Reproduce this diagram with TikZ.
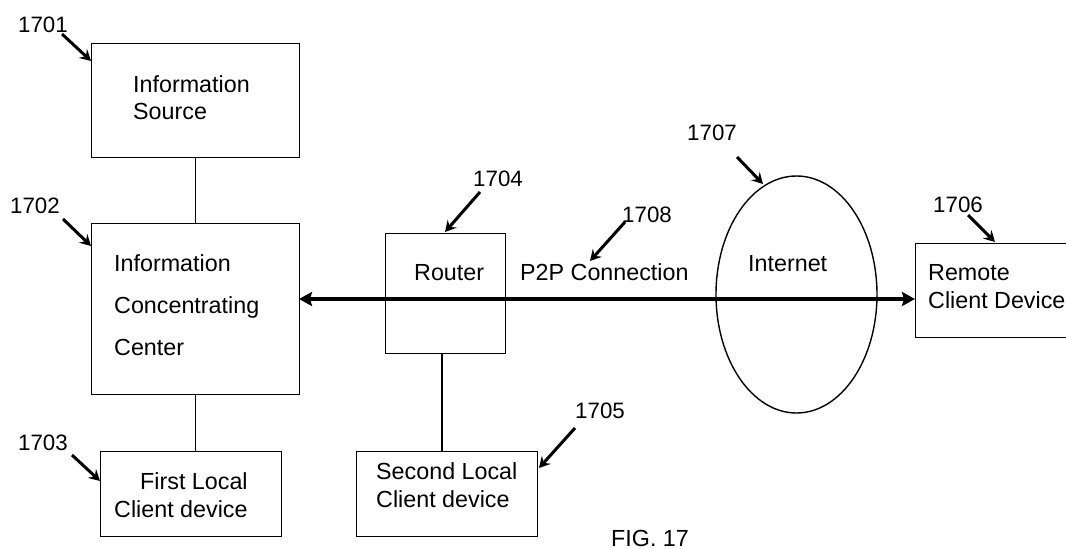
\documentclass[tikz,border=0pt]{standalone}
\usepackage{fontspec}
\setmainfont{Liberation Sans}
\usetikzlibrary{arrows.meta,shapes.geometric}
\begin{document}
\begin{tikzpicture}[x=1pt,y=-1pt,
  box/.style={draw,line width=1.4pt,inner sep=0pt,anchor=north west},
  txt/.style={inner sep=0pt,anchor=base west,font=\fontsize{23.3}{28}\selectfont},
  num/.style={inner sep=0pt,anchor=base west,font=\fontsize{22.3}{26}\selectfont},
  link/.style={line width=1.4pt},
  refarrow/.style={line width=3pt,-{Stealth[length=11pt,width=12pt,inset=4pt]}},
  mainarrow/.style={line width=4.5pt,{Stealth[length=13pt,width=14pt,inset=2pt]}-{Stealth[length=13pt,width=14pt,inset=2pt]}}]
\useasboundingbox (0,0) rectangle (1066,549);
% boxes
\node[box,minimum width=208,minimum height=114] (src) at (91,43) {};
\node[box,minimum width=208,minimum height=171] (icc) at (91,223) {};
\node[box,minimum width=181,minimum height=85] (flc) at (100,451) {};
\node[box,minimum width=120,minimum height=120] (rtr) at (385,233) {};
\node[box,minimum width=181,minimum height=85] (slc) at (356,451) {};
\node[box,minimum width=152,minimum height=94] (rcd) at (915,243) {};
\node[draw,ellipse,line width=1.4pt,inner sep=0pt,minimum width=161,minimum height=237] (net) at (796.5,294.5) {};
% texts
\node[txt] (t1a) at (133,92) {Information};
\node[txt] (t1b) at (133,119) {Source};
\node[txt] (t2a) at (114,271) {Information};
\node[txt] (t2b) at (114,313) {Concentrating};
\node[txt] (t2c) at (114,355) {Center};
\node[txt] (t3a) at (140,489) {First Local};
\node[txt] (t3b) at (114,517) {Client device};
\node[txt] (t4) at (414,280) {Router};
\node[txt] (t5a) at (376,479) {Second Local};
\node[txt] (t5b) at (376,507) {Client device};
\node[txt] (t6a) at (928,280) {Remote};
\node[txt] (t6b) at (928,308) {Client Device};
\node[txt] (t7) at (748,271) {Internet};
\node[txt] (t8) at (520,280) {P2P Connection};
\node[txt] (fig) at (611,546) {FIG. 17};
% reference numbers
\node[num] (n1) at (18,32) {1701};
\node[num] (n2) at (10,213) {1702};
\node[num] (n3) at (18,450) {1703};
\node[num] (n4) at (473,186) {1704};
\node[num] (n5) at (575,418) {1705};
\node[num] (n6) at (933,212) {1706};
\node[num] (n7) at (687,140) {1707};
\node[num] (n8) at (622,222) {1708};
% connectors
\draw[link] (src.south) -- (icc.north);
\draw[link] (icc.south) -- (flc.north -| icc.south);
\draw[link] (442,353) -- (442,451);
\coordinate (pl) at (299,299);
\coordinate (pr) at (915,299);
\draw[mainarrow] (pl) -- (pr);
% reference arrows
\coordinate (a1s) at (62,34); \coordinate (a1e) at (91,61);
\coordinate (a2s) at (63,219); \coordinate (a2e) at (91,246);
\coordinate (a3s) at (72,455); \coordinate (a3e) at (100,481);
\coordinate (a4s) at (480,192); \coordinate (a4e) at (445,232);
\coordinate (a5s) at (575,428); \coordinate (a5e) at (539,468);
\coordinate (a6s) at (968,215); \coordinate (a6e) at (995,242);
\coordinate (a7s) at (737,157); \coordinate (a7e) at (763,184);
\coordinate (a8s) at (625,222); \coordinate (a8e) at (590,261);
\foreach \i in {1,...,8} {\draw[refarrow] (a\i s) -- (a\i e);}
\end{tikzpicture}
\end{document}
